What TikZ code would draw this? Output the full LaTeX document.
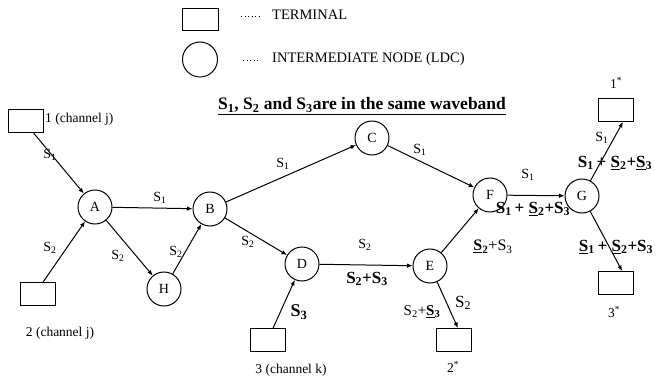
\documentclass[tikz,border=0pt]{standalone}
\usepackage{fontspec}
\setmainfont{Liberation Serif}
\usetikzlibrary{arrows.meta}
\newcommand\uSx{\underline{S}}
\begin{document}
\begin{tikzpicture}[x=1pt,y=-1pt,
  ldc/.style={draw,circle,minimum size=34pt,inner sep=0pt,line width=1pt,font=\fontsize{14}{14}\selectfont},
  term/.style={draw,rectangle,minimum width=35pt,minimum height=23pt,inner sep=0pt,line width=1pt},
  link/.style={line width=1pt,-{Latex[length=5.5pt,width=4.5pt]}},
  sl/.style={font=\fontsize{14}{14}\selectfont,inner sep=0pt},
  bl/.style={font=\fontsize{17}{17}\selectfont\bfseries,inner sep=0pt},
  txt/.style={font=\fontsize{13.5}{13.5}\selectfont,inner sep=0pt},
  leg/.style={font=\fontsize{14.5}{14.5}\selectfont,inner sep=0pt,anchor=west},
  dots/.style={line width=0.9pt,dash pattern=on 1pt off 2.5pt}]
\useasboundingbox (0,0) rectangle (655,379);

% legend
\node[term,minimum width=36pt,minimum height=22pt] (legT) at (200,20) {};
\coordinate (legTd1) at (241,16);
\coordinate (legTd2) at (259,16);
\draw[dots] (legTd1) -- (legTd2);
\node[leg] (legTt) at (272,15) {TERMINAL};
\node[draw,circle,minimum size=35pt,inner sep=0pt,line width=1pt] (legC) at (200,59.5) {};
\coordinate (legCd1) at (243,60);
\coordinate (legCd2) at (260,60);
\draw[dots] (legCd1) -- (legCd2);
\node[leg] (legCt) at (272,59) {INTERMEDIATE NODE (LDC)};

% title
\node[inner sep=0pt,font=\fontsize{17.5}{17.5}\selectfont\bfseries] (title) at (362,106)
  {\underline{S\textsubscript{1}, S\textsubscript{2} and S\textsubscript{3}are in the same waveband}};

% terminals
\node[term] (t1) at (25.5,121) {};
\node[txt,anchor=west] (t1l) at (45,119) {1 (channel j)};
\node[term] (t2) at (37.5,294) {};
\node[txt] (t2l) at (60,333) {2 (channel j)};
\node[term] (t3) at (267.5,340) {};
\node[txt] (t3l) at (291,370) {3 (channel k)};
\node[term] (t2s) at (453.5,340) {};
\node[txt] (t2sl) at (453,367) {2\textsuperscript{*}};
\node[term] (t1s) at (616,110) {};
\node[txt] (t1sl) at (616,83) {1\textsuperscript{*}};
\node[term] (t3s) at (616,283) {};
\node[txt] (t3sl) at (614,312) {3\textsuperscript{*}};

% intermediate nodes
\node[ldc] (A) at (95,207) {A};
\node[ldc] (B) at (210,209) {B};
\node[ldc] (H) at (164,289) {H};
\node[ldc] (C) at (372,138) {C};
\node[ldc] (D) at (302,264) {D};
\node[ldc] (E) at (430,266) {E};
\node[ldc] (F) at (490,195) {F};
\node[ldc] (G) at (582,196) {G};

% links
\draw[link] (t1.-56) -- (A);
\draw[link] (t2.65) -- (A);
\draw[link] (A) -- (B);
\draw[link] (A) -- (H);
\draw[link] (H) -- (B);
\draw[link] (B) -- (C);
\draw[link] (B) -- (D);
\draw[link] (C) -- (F);
\draw[link] (D) -- (E);
\draw[link] (t3.65) -- (D);
\draw[link] (E) -- (F);
\draw[link] (E) -- (t2s.70);
\draw[link] (F) -- (G);
\draw[link] (G) -- (t1s.-60);
\draw[link] (G) -- (t3s.63);

% small link labels
\node[sl] (l1) at (50,155) {S\textsubscript{1}};
\node[sl] (l2) at (50,248) {S\textsubscript{2}};
\node[sl] (l3) at (160,198) {S\textsubscript{1}};
\node[sl] (l4) at (118,256) {S\textsubscript{2}};
\node[sl] (l5) at (176,252) {S\textsubscript{2}};
\node[sl] (l6) at (283,164) {S\textsubscript{1}};
\node[sl] (l7) at (248,242) {S\textsubscript{2}};
\node[sl] (l8) at (420,150) {S\textsubscript{1}};
\node[sl] (l9) at (365,245) {S\textsubscript{2}};
\node[sl] (l10) at (528,175) {S\textsubscript{1}};
\node[sl] (l11) at (602,138) {S\textsubscript{1}};

% bold labels
\node[bl] (b1) at (367,279) {S\textsubscript{2}+S\textsubscript{3}};
\node[bl,font=\fontsize{18}{18}\selectfont\bfseries] (b2) at (299,312) {S\textsubscript{3}};
\node[inner sep=0pt,font=\fontsize{15}{15}\selectfont] (b3) at (422,312) {S\textsubscript{2}+\textbf{\uSx\textsubscript{3}}};
\node[inner sep=0pt,font=\fontsize{17}{17}\selectfont] (b4) at (463,303) {S\textsubscript{2}};
\node[inner sep=0pt,font=\fontsize{16}{16}\selectfont] (b5) at (493,247) {\textbf{\uSx\textsubscript{2}}+S\textsubscript{3}};
\node[bl] (b6) at (533,209) {S\textsubscript{1}\,+ \uSx\textsubscript{2}+S\textsubscript{3}};
\node[bl] (b7) at (615,163) {S\textsubscript{1}\,+ \uSx\textsubscript{2}+\uSx\textsubscript{3}};
\node[bl] (b8) at (616,247) {\uSx\textsubscript{1}\,+ \uSx\textsubscript{2}+S\textsubscript{3}};
\end{tikzpicture}
\end{document}
